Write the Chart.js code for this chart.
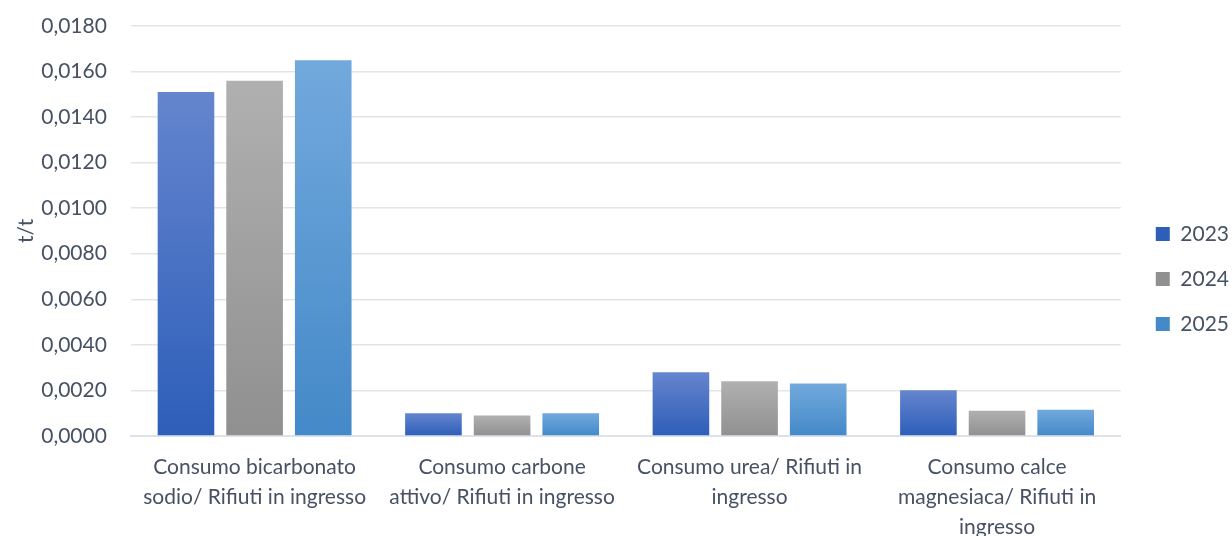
<!DOCTYPE html>
<html>
<head>
<meta charset="utf-8">
<script src="https://cdn.jsdelivr.net/npm/chart.js@4/dist/chart.umd.min.js"></script>
<style>
    html, body { margin: 0; padding: 0; background: #fff; overflow: hidden; }
    #wrap { width: 1232px; height: 536px; overflow: hidden; }
</style>
</head>
<body>
<div id="wrap"><canvas id="chart" width="1232" height="558"></canvas></div>
<script>
const categories = [
    ["Consumo bicarbonato", "sodio/ Rifiuti in ingresso"],
    ["Consumo carbone", "attivo/ Rifiuti in ingresso"],
    ["Consumo urea/ Rifiuti in", "ingresso"],
    ["Consumo calce", "magnesiaca/ Rifiuti in", "ingresso"]
];
const years = ["2023", "2024", "2025"];
const values2023 = [0.0151, 0.0010, 0.0028, 0.0020];
const values2024 = [0.0156, 0.0009, 0.0024, 0.0011];
const values2025 = [0.0165, 0.0010, 0.0023, 0.00115];

// top / bottom colours of each bar gradient
const shades = [
    ["#6585CE", "#2D5EB9"],
    ["#B0B0B0", "#909090"],
    ["#72A9DD", "#4489C8"]
];
const textColor = "#465263";
const font = "Lato, 'Open Sans', sans-serif";

function barFill(i) {
    return function (ctx) {
        const chart = ctx.chart;
        const y = chart.scales.y;
        if (!chart.chartArea || !y || ctx.raw == null) return shades[i][1];
        const top = y.getPixelForValue(ctx.raw);
        const bottom = y.getPixelForValue(0);
        const g = chart.ctx.createLinearGradient(0, top, 0, bottom);
        g.addColorStop(0, shades[i][0]);
        g.addColorStop(1, shades[i][1]);
        return g;
    };
}

// push the legend a bit away from the plot area
const legendGap = {
    id: "legendGap",
    afterInit(chart) {
        const lg = chart.legend;
        const fit = lg.fit.bind(lg);
        lg.fit = function () { fit(); this.width += 4; };
    },
    afterLayout(chart) {
        chart.legend.left += 11;
    }
};

const seriesValues = [values2023, values2024, values2025];
const datasets = years.map((yr, i) => ({
    label: yr,
    data: seriesValues[i],
    backgroundColor: barFill(i),
    borderWidth: 0,
    categoryPercentage: 0.832,
    barPercentage: 0.825
}));

new Chart(document.getElementById("chart").getContext("2d"), {
    type: "bar",
    data: { labels: categories, datasets: datasets },
    plugins: [legendGap],
    options: {
        responsive: false,
        animation: false,
        layout: { padding: { left: 14, right: 0, top: 0, bottom: 0 } },
        plugins: {
            legend: {
                position: "right",
                labels: {
                    color: textColor,
                    font: { family: font, size: 21 },
                    boxWidth: 14,
                    boxHeight: 14,
                    padding: 24,
                    generateLabels: function (chart) {
                        return years.map((yr, i) => ({
                            text: yr,
                            fillStyle: shades[i][1],
                            strokeStyle: shades[i][1],
                            lineWidth: 0,
                            fontColor: textColor,
                            datasetIndex: i
                        }));
                    }
                }
            },
            tooltip: { enabled: false }
        },
        scales: {
            x: {
                grid: { display: false, drawTicks: false },
                border: { display: true, color: "#DDE2E8", width: 2 },
                ticks: {
                    color: textColor,
                    font: { family: font, size: 21, lineHeight: 1.43 },
                    maxRotation: 0,
                    autoSkip: false,
                    padding: 16
                }
            },
            y: {
                min: 0,
                max: 0.018,
                afterFit: (scale) => { scale.paddingTop = 26; scale.paddingBottom = 0; },
                title: {
                    display: true,
                    text: "t/t",
                    color: textColor,
                    font: { family: font, size: 21 },
                    padding: { top: 0, bottom: -22 }
                },
                grid: { color: "#E1E5EA", lineWidth: 1.5, drawTicks: false },
                border: { display: false },
                ticks: {
                    stepSize: 0.002,
                    color: textColor,
                    font: { family: font, size: 21 },
                    padding: 24,
                    callback: (v) => v.toFixed(4).replace(".", ",")
                }
            }
        }
    }
});
</script>
</body>
</html>
